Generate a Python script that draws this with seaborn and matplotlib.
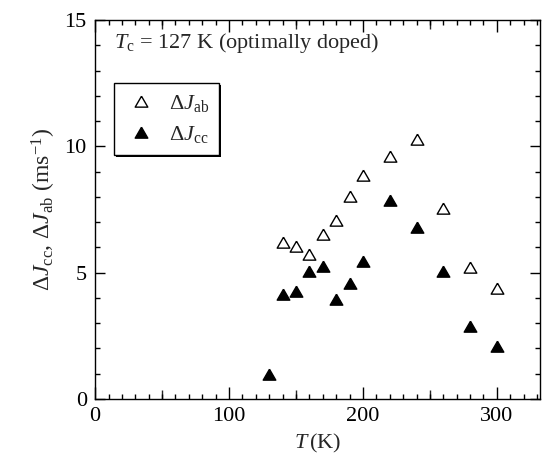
import numpy as np
import pandas as pd
import matplotlib
matplotlib.use("Agg")
import matplotlib.pyplot as plt
import seaborn as sns
from matplotlib.ticker import MultipleLocator, FixedLocator, NullFormatter
from matplotlib.patches import Rectangle
from matplotlib.transforms import IdentityTransform

# Temperature points (K)
temp_ab = [140, 150, 160, 170, 180, 190, 200, 220, 240, 260, 280, 300]
dj_ab = [6.13, 5.96, 5.67, 6.45, 7.02, 7.95, 8.78, 9.55, 10.22, 7.48, 5.16, 4.30]

temp_cc = [130, 140, 150, 160, 170, 180, 190, 200, 220, 240, 260, 280, 300]
dj_cc = [0.92, 4.08, 4.20, 4.97, 5.17, 3.88, 4.52, 5.37, 7.80, 6.72, 4.97, 2.80, 2.03]

df_ab = pd.DataFrame({"T": temp_ab, "dJ": dj_ab})
df_cc = pd.DataFrame({"T": temp_cc, "dJ": dj_cc})

sns.set_style("ticks")
plt.rcParams["font.family"] = ["Liberation Serif", "DejaVu Serif"]
plt.rcParams["mathtext.fontset"] = "custom"
plt.rcParams["mathtext.rm"] = "Liberation Serif"
plt.rcParams["mathtext.it"] = "Liberation Serif:italic"
plt.rcParams["mathtext.bf"] = "Liberation Serif:bold"

FS = 16

fig = plt.figure(figsize=(5.53, 4.65), dpi=100)
ax = fig.add_axes([0.172, 0.142, 0.804, 0.815])

# Equilateral triangle marker
tri = [(0, 1.155), (-1, -0.577), (1, -0.577), (0, 1.155)]
ms = 10.5

lab_ab = r"$\mathit{ΔJ}_{\mathrm{ab}}$"
lab_cc = r"$\mathit{ΔJ}_{\mathrm{cc}}$"

sns.scatterplot(data=df_ab, x="T", y="dJ", ax=ax, marker=tri, s=ms ** 2,
                facecolor="white", edgecolor="black", linewidth=1.0,
                label=lab_ab, zorder=3)
sns.scatterplot(data=df_cc, x="T", y="dJ", ax=ax, marker=tri, s=ms ** 2,
                facecolor="black", edgecolor="black", linewidth=1.0,
                label=lab_cc, zorder=3)

ax.set_xlim(0, 332)
ax.set_ylim(0, 15)

ax.xaxis.set_major_locator(MultipleLocator(100))
ax.xaxis.set_minor_locator(MultipleLocator(10))
ax.yaxis.set_major_locator(MultipleLocator(5))
ax.yaxis.set_minor_locator(MultipleLocator(1))

ax.tick_params(which="both", direction="in", top=True, right=True,
               width=1.0, colors="black", labelsize=FS, pad=6)
ax.tick_params(axis="x", which="major", length=8.6)
ax.tick_params(axis="y", which="major", length=7.2)
ax.tick_params(which="minor", length=3.6)

# Intermediate ticks at the 50 K marks
for loc in ("bottom", "top"):
    sec = ax.secondary_xaxis(loc)
    sec.xaxis.set_major_locator(FixedLocator([50, 150, 250]))
    sec.xaxis.set_major_formatter(NullFormatter())
    sec.xaxis.set_minor_locator(FixedLocator([]))
    sec.tick_params(direction="in", length=6.3, width=1.0)
    for sp in sec.spines.values():
        sp.set_visible(False)

for sp in ax.spines.values():
    sp.set_linewidth(1.0)
    sp.set_color("black")

ax.set_xlabel(r"$\mathit{T}\,$(K)", fontsize=FS, labelpad=4)
ax.set_ylabel(r"$\mathit{ΔJ}_{\mathrm{cc}}$, $\mathit{ΔJ}_{\mathrm{ab}}$ (ms$^{-1}$)",
              fontsize=17, labelpad=5)

ax.text(0.043, 0.94, r"$\mathit{T}_{\mathrm{c}}$ = 127 K (optimally doped)",
        transform=ax.transAxes, fontsize=FS, va="center", ha="left")

leg = ax.legend(loc="upper left", bbox_to_anchor=(0.043, 0.834), fontsize=FS,
                frameon=True, fancybox=False, edgecolor="black", framealpha=1,
                borderpad=0.45, handletextpad=0.5, labelspacing=0.45,
                handlelength=1.5, borderaxespad=0)
leg.get_frame().set_linewidth(1.0)

# Solid drop shadow behind the legend frame
fig.canvas.draw()
bb = leg.get_window_extent()
shadow = Rectangle((bb.x0 + 1.8, bb.y0 - 1.8), bb.width, bb.height,
                   transform=IdentityTransform(), facecolor="black",
                   edgecolor="none", zorder=4.9, clip_on=False)
ax.add_patch(shadow)

fig.savefig("out.png", dpi=100)
